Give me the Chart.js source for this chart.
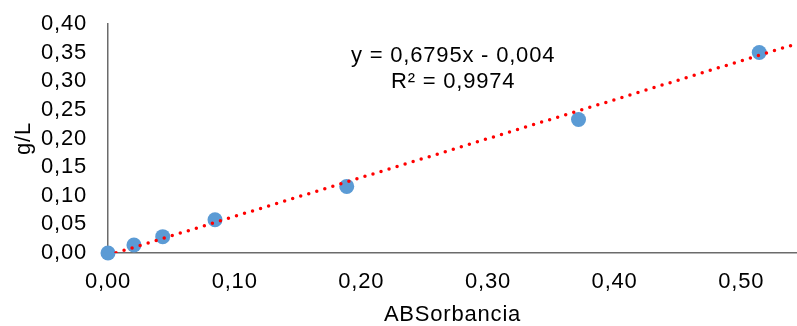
<!DOCTYPE html>
<html>
<head>
<meta charset="utf-8">
<script src="https://cdn.jsdelivr.net/npm/chart.js@4.4.1/dist/chart.umd.min.js"></script>
<style>
  html, body { margin: 0; padding: 0; background: #fff; }
  #wrap { width: 797px; height: 326px; position: relative; }
</style>
</head>
<body>
<div id="wrap"><canvas id="calibChart"></canvas></div>
<script>
// data
const absorbance = [0, 0.0205, 0.0432, 0.0845, 0.1885, 0.3715, 0.5142];
const concentration = [0, 0.014, 0.0286, 0.058, 0.1163, 0.2333, 0.3503];

// axis ranges / tick values
const xMin = 0, xMax = 0.544;
const xTicks = [0, 0.1, 0.2, 0.3, 0.4, 0.5];
const yMin = 0, yMax = 0.40;
const yTicks = [0, 0.05, 0.10, 0.15, 0.20, 0.25, 0.30, 0.35, 0.40];

// trendline as printed on the chart
const trendSlope = 0.6795;
const trendIntercept = -0.004;
const equationLines = ['y = 0,6795x - 0,004', 'R² = 0,9974'];
const equationAnchor = { x: 0.2725, y: 0.344 };  // data coords of first line
const equationLineGap = 26;

const fontFamily = '"Liberation Sans", Arial, sans-serif';
const fontSize = 22;
const letterGap = '0.8px';
const axisColor = '#6b6b6b';

function fmt(v) {
  return v.toFixed(2).replace('.', ',');
}

const points = absorbance.map((x, i) => ({ x: x, y: concentration[i] }));
const trendPoints = [
  { x: xMin, y: trendSlope * xMin + trendIntercept },
  { x: xMax, y: trendSlope * xMax + trendIntercept }
];

// text in the original is a bit wider than Arial, so loosen it slightly
const spacingPlugin = {
  id: 'spacing',
  beforeLayout(chart) { chart.ctx.letterSpacing = letterGap; },
  beforeDraw(chart) { chart.ctx.letterSpacing = letterGap; }
};

// draw the equation text in data space
const equationPlugin = {
  id: 'equation',
  afterDatasetsDraw(chart) {
    const ctx = chart.ctx;
    const xs = chart.scales.x, ys = chart.scales.y;
    const px = xs.getPixelForValue(equationAnchor.x);
    const py = ys.getPixelForValue(equationAnchor.y);
    ctx.save();
    ctx.fillStyle = '#000';
    ctx.font = fontSize + 'px ' + fontFamily;
    ctx.textAlign = 'center';
    ctx.textBaseline = 'middle';
    equationLines.forEach((line, i) => {
      ctx.fillText(line, px, py + i * equationLineGap);
    });
    ctx.restore();
  }
};

const ctx = document.getElementById('calibChart').getContext('2d');
const chart = new Chart(ctx, {
  type: 'scatter',
  data: {
    datasets: [{
      label: 'Tendencia',
      type: 'line',
      data: trendPoints,
      borderColor: '#ff0000',
      borderWidth: 3.5,
      borderDash: [0, 8.4],
      borderCapStyle: 'round',
      pointRadius: 0,
      fill: false,
      order: 0
    }, {
      label: 'g/L',
      data: points,
      backgroundColor: '#5b9bd5',
      borderWidth: 0,
      pointRadius: 7.5,
      pointHoverRadius: 7.5,
      clip: false,
      order: 1
    }]
  },
  options: {
    responsive: true,
    maintainAspectRatio: false,
    animation: false,
    events: [],
    layout: {
      autoPadding: false,
      padding: { top: 24, right: 0, bottom: 0, left: 0 }
    },
    plugins: {
      legend: { display: false },
      tooltip: { enabled: false }
    },
    scales: {
      x: {
        type: 'linear',
        min: xMin,
        max: xMax,
        grid: { display: false, drawTicks: false },
        border: { display: true, color: axisColor, width: 1.5 },
        ticks: {
          autoSkip: false,
          padding: 16,
          color: '#000',
          font: { family: fontFamily, size: fontSize },
          maxRotation: 0,
          callback: function(v) { return fmt(v); }
        },
        title: {
          display: true,
          text: 'ABSorbancia',
          color: '#000',
          font: { family: fontFamily, size: fontSize, lineHeight: 1 },
          padding: { top: 0, bottom: 0 }
        },
        afterBuildTicks: function(scale) {
          scale.ticks = xTicks.map(v => ({ value: v }));
        },
        afterFit: function(scale) {
          scale.height = 73;
          scale.paddingLeft = 0;
          scale.paddingRight = 0;
        }
      },
      y: {
        min: yMin,
        max: yMax,
        grid: { display: false, drawTicks: false },
        border: { display: true, color: axisColor, width: 1.5 },
        ticks: {
          autoSkip: false,
          padding: 21,
          color: '#000',
          font: { family: fontFamily, size: fontSize },
          callback: function(v) { return fmt(v); }
        },
        title: {
          display: true,
          text: 'g/L',
          color: '#000',
          font: { family: fontFamily, size: fontSize },
          padding: { top: 11, bottom: 0 }
        },
        afterBuildTicks: function(scale) {
          scale.ticks = yTicks.map(v => ({ value: v }));
        },
        afterFit: function(scale) {
          scale.width = 108;
          scale.paddingTop = 0;
          scale.paddingBottom = 0;
        }
      }
    }
  },
  plugins: [spacingPlugin, equationPlugin]
});
</script>
</body>
</html>
